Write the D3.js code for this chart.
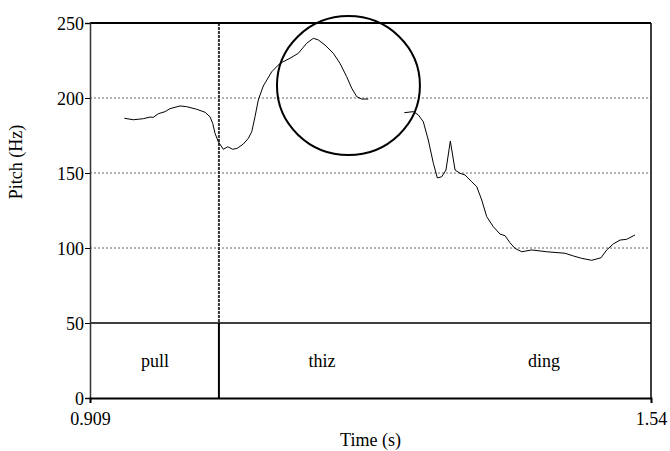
<!DOCTYPE html>
<html>
<head>
<meta charset="utf-8">
<script src="https://cdn.jsdelivr.net/npm/d3@7"></script>
<style>
  html, body { margin: 0; padding: 0; background: #fff; }
  svg { display: block; font-family: "Liberation Serif", "Times New Roman", serif; }
</style>
</head>
<body>
<svg id="chart" width="670" height="451"></svg>
<script>
// Time range of the display (s) and pitch range (Hz)
const timeDomain = [0.909, 1.54];
const pitchDomain = [0, 250];
const yTicks = [0, 50, 100, 150, 200, 250];
const xTicks = [0.909, 1.54];
const gridValues = [100, 150, 200];
const tierFloor = 50;   // text tier occupies 0–50 Hz band

// Pitch track, first voiced stretch ("pull" + "thiz")
const segATime = [0.9476, 0.9577, 0.9690, 0.9765, 0.9802, 0.9858, 0.9934, 0.9990, 1.0102, 1.0178,
  1.0290, 1.0384, 1.0440, 1.0470, 1.0496, 1.0533, 1.0589, 1.0639, 1.0695, 1.0747,
  1.0814, 1.0871, 1.0909, 1.0946, 1.0983, 1.1039, 1.1134, 1.1227, 1.1340, 1.1433,
  1.1527, 1.1602, 1.1658, 1.1733, 1.1827, 1.1902, 1.1977, 1.2034, 1.2090, 1.2146, 1.2220];
const segAPitch = [186.5, 185.5, 186.2, 187.3, 187.1, 189.5, 190.9, 192.9, 194.7, 194.2,
  192.5, 190.5, 187.5, 183.1, 176.5, 170.9, 165.8, 167.5, 165.8, 166.5,
  169.3, 173.1, 177.5, 187.5, 198.7, 208.0, 217.5, 223.1, 226.5, 229.8,
  236.5, 239.8, 238.7, 235.3, 229.8, 223.1, 214.2, 206.5, 200.9, 199.3, 199.3];

// Pitch track, second voiced stretch ("ding")
const segBTime = [1.2625, 1.2727, 1.2783, 1.2839, 1.2895, 1.2952, 1.2997, 1.3046, 1.3094, 1.3143,
  1.3196, 1.3252, 1.3308, 1.3383, 1.3440, 1.3496, 1.3552, 1.3626, 1.3702, 1.3758,
  1.3814, 1.3870, 1.3946, 1.4058, 1.4227, 1.4433, 1.4526, 1.4621, 1.4733, 1.4838,
  1.4902, 1.4976, 1.5052, 1.5127, 1.5220];
const segBPitch = [190.2, 190.9, 188.7, 184.2, 172.0, 156.5, 146.7, 147.5, 152.0, 171.3,
  152.0, 149.8, 148.7, 144.2, 140.9, 132.0, 120.9, 114.2, 109.3, 108.2,
  103.5, 99.8, 97.5, 98.7, 97.5, 96.5, 94.7, 93.1, 91.8, 93.5,
  98.7, 102.7, 105.3, 105.8, 108.7];

// Word tier
const wordLabels = ["pull", "thiz", "ding"];
const wordCenters = [0.9821, 1.1700, 1.4197];
const wordBoundaries = [1.054];

// Highlight ellipse around the pitch peak (centre in data units, radii in s / Hz)
const highlightCenter = [1.1997, 208.3];
const highlightRadii = [0.0804, 46.3];

const svg = d3.select("#chart");
const x = d3.scaleLinear().domain(timeDomain).range([90, 651]);
const y = d3.scaleLinear().domain(pitchDomain).range([398, 23]);
const FONT = "Liberation Serif";

// Dashed horizontal grid lines
svg.append("g").selectAll("line").data(gridValues).join("line")
  .attr("x1", x(timeDomain[0])).attr("x2", x(timeDomain[1]))
  .attr("y1", d => y(d)).attr("y2", d => y(d))
  .attr("stroke", "#666").attr("stroke-width", 1).attr("stroke-dasharray", "2,2");

// Word boundaries: dotted in the pitch area, solid in the tier
const bnd = svg.append("g");
bnd.selectAll("line.upper").data(wordBoundaries).join("line")
  .attr("class", "upper")
  .attr("x1", d => x(d)).attr("x2", d => x(d))
  .attr("y1", y(pitchDomain[1])).attr("y2", y(tierFloor))
  .attr("stroke", "#333").attr("stroke-width", 2).attr("stroke-dasharray", "3,1");
bnd.selectAll("line.lower").data(wordBoundaries).join("line")
  .attr("class", "lower")
  .attr("x1", d => x(d)).attr("x2", d => x(d))
  .attr("y1", y(tierFloor)).attr("y2", y(0))
  .attr("stroke", "#000").attr("stroke-width", 2);

// Frame
svg.append("line").attr("x1", x(timeDomain[0])).attr("x2", x(timeDomain[1]))
  .attr("y1", y(250)).attr("y2", y(250)).attr("stroke", "#000").attr("stroke-width", 2);
svg.append("line").attr("x1", x(timeDomain[1])).attr("x2", x(timeDomain[1]))
  .attr("y1", y(250)).attr("y2", y(0)).attr("stroke", "#000").attr("stroke-width", 1.5);
svg.append("line").attr("x1", x(timeDomain[0])).attr("x2", x(timeDomain[1]))
  .attr("y1", y(tierFloor)).attr("y2", y(tierFloor)).attr("stroke", "#000").attr("stroke-width", 1.5);

// Axes
const yAxis = d3.axisLeft(y).tickValues(yTicks).tickSize(5).tickFormat(d3.format("d"));
const gy = svg.append("g").attr("transform", `translate(${x(timeDomain[0])},0)`).call(yAxis)
  .attr("font-family", FONT);
gy.select(".domain").attr("stroke", "#333").attr("stroke-width", 1.5);
gy.selectAll(".tick line").attr("stroke", "#000");
gy.selectAll(".tick text").attr("font-size", 18).attr("font-family", FONT)
  .attr("fill", "#000").attr("x", -6).attr("dy", "0.34em");

const xAxis = d3.axisBottom(x).tickValues(xTicks).tickSize(5).tickFormat(d => String(d));
const gx = svg.append("g").attr("transform", `translate(0,${y(0)})`).call(xAxis)
  .attr("font-family", FONT);
gx.select(".domain").attr("stroke", "#000").attr("stroke-width", 2);
gx.selectAll(".tick line").attr("stroke", "#000");
gx.selectAll(".tick text").attr("font-size", 18).attr("font-family", FONT)
  .attr("fill", "#000").attr("y", 14);

// Pitch contour
const line = d3.line().x(d => x(d[0])).y(d => y(d[1]));
[[segATime, segAPitch], [segBTime, segBPitch]].forEach(([t, p]) => {
  svg.append("path").datum(d3.zip(t, p)).attr("d", line)
    .attr("fill", "none").attr("stroke", "#000").attr("stroke-width", 1);
});

// Word labels
svg.append("g").selectAll("text").data(wordLabels).join("text")
  .attr("x", (d, i) => x(wordCenters[i])).attr("y", y(25)).attr("dy", "0.35em")
  .attr("text-anchor", "middle").attr("font-size", 18).attr("font-family", FONT).text(d => d);

// Highlight ellipse
svg.append("ellipse")
  .attr("cx", x(highlightCenter[0])).attr("cy", y(highlightCenter[1]))
  .attr("rx", x(timeDomain[0] + highlightRadii[0]) - x(timeDomain[0]))
  .attr("ry", y(0) - y(highlightRadii[1]))
  .attr("fill", "none").attr("stroke", "#000").attr("stroke-width", 2);

// Axis titles
svg.append("text").attr("x", x(d3.mean(timeDomain))).attr("y", 446)
  .attr("text-anchor", "middle").attr("font-size", 18).attr("font-family", FONT).text("Time (s)");
svg.append("text").attr("transform", `translate(22,162) rotate(-90)`)
  .attr("text-anchor", "middle").attr("font-size", 18).attr("font-family", FONT).text("Pitch (Hz)");
</script>
</body>
</html>
